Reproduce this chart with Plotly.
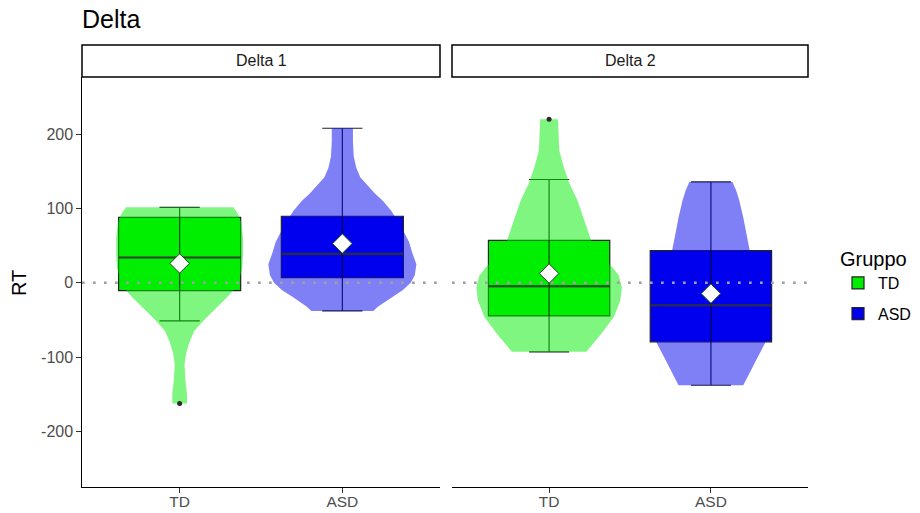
import plotly.graph_objects as go

# ---------------- data ----------------
panels = ["Delta 1", "Delta 2"]
groups = ["TD", "ASD"]
group_pos = [1, 2]

# box statistics per panel / group
q1 = {"Delta 1": [-10.5, 7.0], "Delta 2": [-44.7, -79.6]}
median = {"Delta 1": [34.0, 38.8], "Delta 2": [-4.7, -30.3]}
q3 = {"Delta 1": [88.0, 89.5], "Delta 2": [57.0, 43.3]}
lower = {"Delta 1": [-51.4, -38.0], "Delta 2": [-93.0, -138.0]}
upper = {"Delta 1": [101.6, 208.0], "Delta 2": [139.0, 135.7]}
means = {"Delta 1": [26.0, 52.7], "Delta 2": [12.4, -14.6]}
outliers = {"Delta 1": [[-162.6], []], "Delta 2": [[220.0], []]}

# violin half-width profiles (value, half-width in category units)
td1_y = [-162.6, -150, -130, -110, -95, -80, -65, -50, -35, -20, -10, 0, 20, 40, 60, 80, 92, 101.6]
td1_w = [0.045, 0.045, 0.035, 0.03, 0.04, 0.06, 0.09, 0.15, 0.22, 0.29, 0.33, 0.36, 0.385, 0.39, 0.39, 0.38, 0.36, 0.33]
asd1_y = [-38, -32, -20, -10, 0, 10, 25, 40, 55, 66, 80, 97, 110, 120, 132, 142, 155, 170, 190, 208]
asd1_w = [0.19, 0.22, 0.30, 0.37, 0.42, 0.445, 0.455, 0.43, 0.41, 0.385, 0.35, 0.30, 0.25, 0.20, 0.15, 0.11, 0.085, 0.07, 0.065, 0.065]
td2_y = [-93, -80, -68, -46, -24, -6, 10, 21, 35, 57, 88, 111, 134, 156, 178, 200, 220]
td2_w = [0.23, 0.28, 0.325, 0.40, 0.44, 0.45, 0.43, 0.39, 0.33, 0.26, 0.21, 0.175, 0.125, 0.09, 0.063, 0.057, 0.055]
asd2_y = [-138, -122, -104, -81, -60, -40, -20, 0, 20, 43, 65, 88, 111, 125, 135.7]
asd2_w = [0.20, 0.24, 0.28, 0.335, 0.35, 0.345, 0.33, 0.30, 0.27, 0.24, 0.22, 0.20, 0.175, 0.155, 0.133]
violins = {"Delta 1": [(td1_y, td1_w), (asd1_y, asd1_w)],
           "Delta 2": [(td2_y, td2_w), (asd2_y, asd2_w)]}

y_ticks = [-200, -100, 0, 100, 200]
y_ticklabels = ["-200", "-100", "0", "100", "200"]

# ---------------- styles ----------------
FONT = "Liberation Sans, Arial, sans-serif"
box_fill = {"TD": "#00EE00", "ASD": "#0000EE"}
violin_fill = {"TD": "rgba(0,238,0,0.5)", "ASD": "rgba(0,0,238,0.5)"}
BOX_W = 0.75
L, R, T, B = 82, 112, 77, 26
PW, PH = 920 - L - R, 513 - T - B

fig = go.Figure()
axes = [("x", "y"), ("x2", "y2")]

for pi, panel in enumerate(panels):
    xa, ya = axes[pi]
    for gi, g in enumerate(groups):
        cx = group_pos[gi]
        vy, vw = violins[panel][gi]
        px = [cx - w for w in vw] + [cx + w for w in vw[::-1]]
        py = list(vy) + list(vy[::-1])
        fig.add_trace(go.Scatter(x=px, y=py, xaxis=xa, yaxis=ya, mode="lines",
                                 fill="toself", fillcolor=violin_fill[g],
                                 line=dict(width=0), showlegend=False, hoverinfo="skip"))
        fig.add_trace(go.Box(x=[cx], q1=[q1[panel][gi]], median=[median[panel][gi]],
                             q3=[q3[panel][gi]], lowerfence=[lower[panel][gi]],
                             upperfence=[upper[panel][gi]], width=BOX_W, whiskerwidth=0.33,
                             fillcolor=box_fill[g], line=dict(color="#222222", width=1.2),
                             boxpoints=False, name=g, legendgroup=g,
                             showlegend=(pi == 0), xaxis=xa, yaxis=ya))
        fig.add_trace(go.Scatter(x=[cx, cx], y=[q1[panel][gi], q3[panel][gi]], xaxis=xa, yaxis=ya,
                                 mode="lines", line=dict(color="rgba(0,0,0,0.7)", width=1.2),
                                 showlegend=False, hoverinfo="skip"))
        fig.add_trace(go.Scatter(x=[cx - BOX_W / 2, cx + BOX_W / 2],
                                 y=[median[panel][gi]] * 2, xaxis=xa, yaxis=ya, mode="lines",
                                 line=dict(color="rgba(51,51,51,0.7)", width=2.6),
                                 showlegend=False, hoverinfo="skip"))
        if outliers[panel][gi]:
            fig.add_trace(go.Scatter(x=[cx] * len(outliers[panel][gi]), y=outliers[panel][gi],
                                     xaxis=xa, yaxis=ya, mode="markers",
                                     marker=dict(color="#2a2a2a", size=5),
                                     showlegend=False, hoverinfo="skip"))
        fig.add_trace(go.Scatter(x=[cx], y=[means[panel][gi]], xaxis=xa, yaxis=ya, mode="markers",
                                 marker=dict(symbol="diamond", size=15, color="white",
                                             line=dict(color="#1a4d1a", width=1)),
                                 showlegend=False, hoverinfo="skip"))

shapes = []
annotations = []
strip_h = 32 / PH
for pi, panel in enumerate(panels):
    xr = "x domain" if pi == 0 else "x2 domain"
    yr = "y" if pi == 0 else "y2"
    shapes.append(dict(type="line", xref=xr, yref=yr, x0=0, x1=1, y0=0, y1=0,
                       line=dict(color="#A0A0A0", width=2.7, dash="2.7px,8.3px"), layer="above"))
    shapes.append(dict(type="rect", xref=xr, yref="paper", x0=0, x1=1, y0=1.0, y1=1 + strip_h,
                       line=dict(color="black", width=1.5), fillcolor="white"))
    annotations.append(dict(text=panel, xref=xr, yref="paper", x=0.5, y=1 + strip_h / 2,
                            showarrow=False, font=dict(family=FONT, size=16, color="#1A1A1A"),
                            xanchor="center", yanchor="middle"))

annotations.append(dict(text="Delta", xref="paper", yref="paper", x=0.0, y=(513 - B - 19) / PH,
                        showarrow=False, xanchor="left", yanchor="middle", xshift=-2,
                        font=dict(family=FONT, size=25, color="black")))
annotations.append(dict(text="RT", xref="paper", yref="paper", x=(19 - L) / PW, y=(513 - B - 283) / PH,
                        showarrow=False, xanchor="center", yanchor="middle", textangle=-90,
                        font=dict(family=FONT, size=20, color="black")))

xcommon = dict(range=[0.4, 2.6], tickvals=group_pos, ticktext=groups, showgrid=False,
               zeroline=False, showline=True, linecolor="black", linewidth=1.3,
               ticks="outside", ticklen=4.5, tickcolor="#333333", tickwidth=1, automargin=False,
               ticklabelstandoff=-4,
               tickfont=dict(family=FONT, size=15.5, color="#4D4D4D"))
fig.update_layout(
    template="none",
    width=920, height=513,
    margin=dict(l=L, r=R, t=T, b=B),
    plot_bgcolor="white", paper_bgcolor="white",
    xaxis=dict(domain=[0, 358 / PW], anchor="y", **xcommon),
    xaxis2=dict(domain=[370 / PW, 1], anchor="y2", **xcommon),
    yaxis=dict(range=[-275, 277], tickvals=y_ticks, ticktext=y_ticklabels, showgrid=False,
               zeroline=False, showline=True, linecolor="black", linewidth=1.3,
               ticks="outside", ticklen=4.5, tickcolor="#333333", tickwidth=1, automargin=False,
               tickfont=dict(family=FONT, size=16, color="#4D4D4D")),
    yaxis2=dict(range=[-275, 277], matches="y", anchor="x2", showgrid=False, zeroline=False,
                showline=False, showticklabels=False, ticks="", automargin=False),
    legend=dict(xref="container", yref="container", x=838 / 920, y=1 - 240 / 513,
                xanchor="left", yanchor="top", bgcolor="rgba(0,0,0,0)", borderwidth=0,
                title=dict(text="Gruppo", font=dict(family=FONT, size=20, color="black")),
                font=dict(family=FONT, size=16, color="black"), tracegroupgap=7, itemwidth=30),
    shapes=shapes, annotations=annotations,
    showlegend=True,
)

fig.write_html("out.html", config={"displayModeBar": False},
               post_script="document.body.style.margin='0';")
